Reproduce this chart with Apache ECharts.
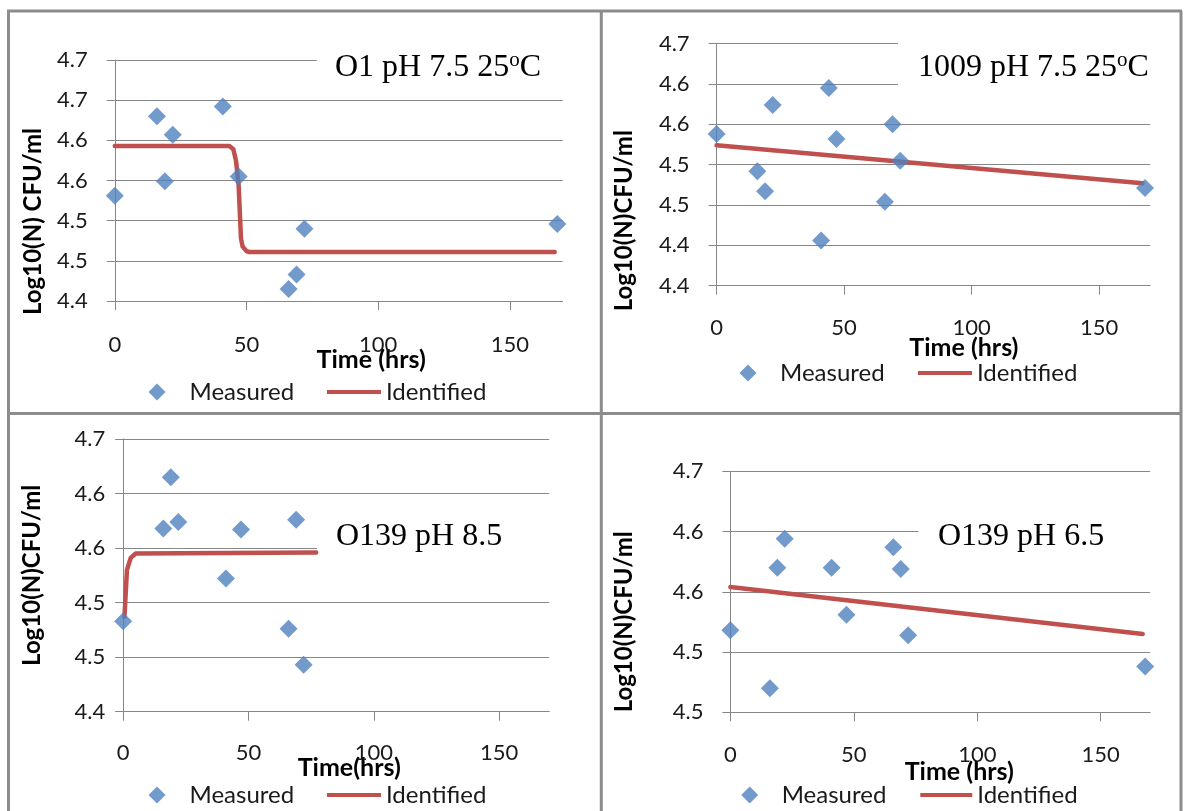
<!DOCTYPE html>
<html><head><meta charset="utf-8">
<script src="https://cdn.jsdelivr.net/npm/echarts@6/dist/echarts.min.js"></script>
<style>html,body{margin:0;padding:0;background:#fff}#c{width:1184px;height:811px}</style>
</head><body><div id="c"></div>
<script>
// ---------------- data ----------------
const panelTitles = ['O1 pH 7.5 25°C', '1009 pH 7.5 25°C', 'O139 pH 8.5', 'O139 pH 6.5'];
const yAxisNames = ['Log10(N) CFU/ml', 'Log10(N)CFU/ml', 'Log10(N)CFU/ml', 'Log10(N)CFU/ml'];
const xAxisNames = ['Time (hrs)', 'Time (hrs)', 'Time(hrs)', 'Time (hrs)'];
const seriesNames = ['Measured', 'Identified'];

const xTicks = [0, 50, 100, 150];
const xMax = 170;

const yMin = [4.4, 4.35, 4.4, 4.45];
const yMax = [4.7, 4.65, 4.65, 4.65];
const yStep = 0.05;
const yTickLabels1 = ['4.4', '4.5', '4.5', '4.6', '4.6', '4.7', '4.7'];
const yTickLabels2 = ['4.4', '4.4', '4.5', '4.5', '4.6', '4.6', '4.7'];
const yTickLabels3 = ['4.4', '4.5', '4.5', '4.6', '4.6', '4.7'];
const yTickLabels4 = ['4.5', '4.5', '4.6', '4.6', '4.7'];

// Panel 1: O1 pH 7.5 25°C
const measured1 = [[0, 4.531], [16, 4.630], [19, 4.549], [22, 4.607], [41, 4.642], [47, 4.555], [66, 4.415], [69, 4.433], [72, 4.490], [168, 4.496]];
const identified1 = [[0, 4.593], [43.5, 4.593], [45, 4.589], [46, 4.575], [47, 4.545], [47.9, 4.478], [48.5, 4.468], [50, 4.462], [51, 4.461], [167, 4.461]];
// Panel 2: 1009 pH 7.5 25°C
const measured2 = [[0, 4.538], [16, 4.492], [19, 4.467], [22, 4.574], [41, 4.406], [44, 4.595], [47, 4.532], [66, 4.454], [69, 4.550], [72, 4.505], [168, 4.471]];
const identified2 = [[0, 4.524], [167, 4.477]];
// Panel 3: O139 pH 8.5
const measured3 = [[0, 4.483], [16, 4.568], [19, 4.615], [22, 4.574], [41, 4.522], [47, 4.567], [66, 4.476], [69, 4.576], [72, 4.443]];
const identified3 = [[0.5, 4.487], [1.5, 4.530], [3, 4.541], [5, 4.545], [77, 4.546]];
// Panel 4: O139 pH 6.5
const measured4 = [[0, 4.518], [16, 4.470], [19, 4.570], [22, 4.594], [41, 4.570], [47, 4.531], [66, 4.587], [69, 4.569], [72, 4.514], [168, 4.488]];
const identified4 = [[0, 4.554], [167, 4.515]];

const yTickLabels = [yTickLabels1, yTickLabels2, yTickLabels3, yTickLabels4];
const measured = [measured1, measured2, measured3, measured4];
const identified = [identified1, identified2, identified3, identified4];

// ---------------- layout / style ----------------
const SANS = 'Lato';
const SERIF = 'Liberation Serif';
const TXT = '#1a1a1a';
const AX = '#868686';
const BLUE = '#4f81bd';
const RED = '#c0504d';

const layout = [
  {grid: {left: 114.8, top: 60, width: 447.8, height: 241}, yLab: 27, xLab: 33, xNameGap: 46, xNamePad: 65, yNameGap: 70, yNamePad: 82,
   title: {left: 335, top: 49.5}, box: [316.7, 45, 255, 45], leg: {m: 148.5, i: 327, iw: 54, top: 379, mPad: 19}},
  {grid: {left: 716.6, top: 43.7, width: 433.5, height: 242}, yLab: 27, xLab: 31, xNameGap: 50, xNamePad: 61, yNameGap: 80, yNamePad: 112,
   title: {left: 918, top: 49.5}, box: [898, 32, 262, 73], leg: {m: 739.5, i: 918, iw: 54, top: 360, mPad: 18.5}},
  {grid: {left: 123.2, top: 439, width: 426, height: 272.7}, yLab: 18, xLab: 30, xNameGap: 44, xNamePad: 26, yNameGap: 79, yNamePad: 0,
   title: {left: 336, top: 519}, box: [316.9, 515, 238, 70], leg: {m: 148.5, i: 327, iw: 54, top: 782, mPad: 19}},
  {grid: {left: 730.4, top: 471.3, width: 419.7, height: 241}, yLab: 27, xLab: 32, xNameGap: 47, xNamePad: 38, yNameGap: 94, yNamePad: 60,
   title: {left: 938, top: 519}, box: [918.4, 505, 237, 70], leg: {m: 741.2, i: 920.3, iw: 52, top: 782, mPad: 18.5}}
];

const grid = [], xAxis = [], yAxis = [], series = [], legend = [], title = [], graphic = [];

layout.forEach((L, i) => {
  grid.push(Object.assign({containLabel: false}, L.grid));
  xAxis.push({
    type: 'value', gridIndex: i, min: 0, max: xMax,
    name: xAxisNames[i], nameLocation: 'middle', nameGap: L.xNameGap, nameMoveOverlap: false,
    nameTextStyle: {fontFamily: SANS, fontWeight: 'bold', fontSize: 25, color: '#000', padding: [0, 0, 0, L.xNamePad]},
    axisLine: {show: true, onZero: false, lineStyle: {color: AX, width: 1}},
    axisTick: {show: true, customValues: xTicks, length: 9, lineStyle: {color: AX}},
    axisLabel: {customValues: xTicks, margin: L.xLab, fontFamily: SANS, fontSize: 22, color: TXT},
    splitLine: {show: false}
  });
  const labs = yTickLabels[i], mn = yMin[i];
  yAxis.push({
    type: 'value', gridIndex: i, min: mn, max: yMax[i], interval: yStep,
    name: yAxisNames[i], nameLocation: 'middle', nameRotate: 90, nameGap: L.yNameGap, nameMoveOverlap: false,
    nameTextStyle: {fontFamily: SANS, fontWeight: 'bold', fontSize: 24, color: '#000', padding: [0, L.yNamePad, 0, 0]},
    axisLine: {show: true, onZero: false, lineStyle: {color: AX, width: 1}},
    axisTick: {show: true, length: 8, lineStyle: {color: AX}},
    axisLabel: {margin: L.yLab, fontFamily: SANS, fontSize: 22, color: TXT,
      formatter: v => labs[Math.round((v - mn) / yStep)]},
    splitLine: {show: true, lineStyle: {color: AX, width: 1}}
  });
  series.push({
    name: seriesNames[0], type: 'scatter', xAxisIndex: i, yAxisIndex: i,
    data: measured[i], symbol: 'diamond', symbolSize: 18,
    itemStyle: {color: BLUE}, z: 3
  });
  series.push({
    name: seriesNames[1], type: 'line', xAxisIndex: i, yAxisIndex: i,
    data: identified[i], showSymbol: false, symbol: 'none', smooth: false,
    lineStyle: {color: RED, width: 4.5, cap: 'round', join: 'round'}, itemStyle: {color: RED}, z: 2
  });
  legend.push({
    data: [{name: seriesNames[0], icon: 'diamond'}], left: L.leg.m, top: L.leg.top, padding: 0,
    itemWidth: 17, itemHeight: 17, selectedMode: false,
    textStyle: {fontFamily: SANS, fontSize: 24, lineHeight: 26, color: TXT, padding: [0, 0, 0, L.leg.mPad]}
  });
  legend.push({
    data: [{name: seriesNames[1], icon: 'rect'}], left: L.leg.i, top: L.leg.top, padding: 0,
    itemWidth: L.leg.iw, itemHeight: 4, selectedMode: false,
    textStyle: {fontFamily: SANS, fontSize: 24, lineHeight: 26, color: TXT}
  });
  const parts = panelTitles[i].split('°');
  title.push({
    text: parts.map(p => '{m|' + p + '}').join('{s|o}'),
    left: L.title.left, top: L.title.top, padding: 0,
    textStyle: {fontWeight: 'normal', rich: {
      m: {fontFamily: SERIF, fontSize: 32, fontWeight: 'normal', lineHeight: 36, color: '#000'},
      s: {fontFamily: SERIF, fontSize: 21, fontWeight: 'normal', lineHeight: 16, verticalAlign: 'top', color: '#000'}
    }}
  });
  graphic.push({type: 'rect', z: 1, silent: true,
    shape: {x: L.box[0], y: L.box[1], width: L.box[2], height: L.box[3]},
    style: {fill: '#ffffff'}});
});

// panel frame lines
const frame = [[8.5, 11, 8.5, 811], [7, 11, 1182, 11], [1181, 11, 1181, 811], [601.3, 11, 601.3, 811], [7, 413.5, 1182, 413.5]];
frame.forEach(f => graphic.push({type: 'line', z: 100, silent: true,
  shape: {x1: f[0], y1: f[1], x2: f[2], y2: f[3]}, style: {stroke: '#8c8c8c', lineWidth: 3}}));

const chart = echarts.init(document.getElementById('c'), null, {renderer: 'canvas'});
chart.setOption({
  animation: false,
  backgroundColor: '#ffffff',
  grid, xAxis, yAxis, series, legend, title, graphic
});
</script>
</body></html>
